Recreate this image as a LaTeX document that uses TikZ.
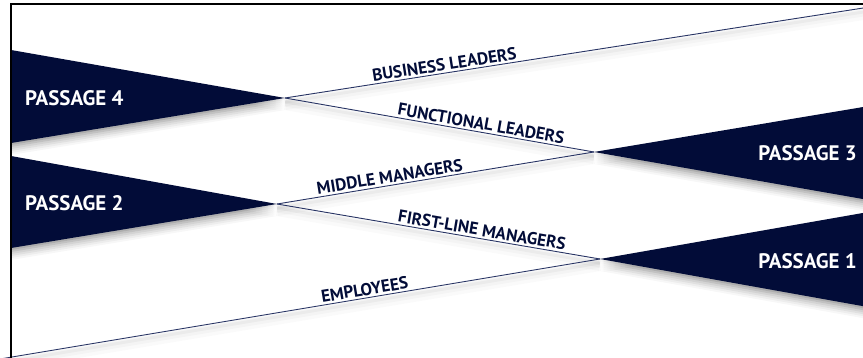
\documentclass[tikz,border=0pt]{standalone}
\usepackage{fontspec}
\setmainfont{PT Sans}
\definecolor{navy}{RGB}{2,12,56}
\definecolor{rulecol}{RGB}{40,52,100}
\begin{document}
\begin{tikzpicture}[x=1pt,y=-1pt,
  pennant/.style={fill=navy},
  ptext/.style={text=white, font=\bfseries\fontsize{21}{21}\selectfont, inner sep=0pt},
  tier/.style={draw=rulecol, line width=0.9pt},
  tiershade/.style={draw=black, line cap=butt},
  tierlabel/.style={text=navy, font=\bfseries\fontsize{17.2}{17.2}\selectfont,
      sloped, above=2pt, inner sep=0pt}]
\useasboundingbox (0,0) rectangle (863,358);
\clip (0,0) rectangle (863,358);
\fill[white] (0,0) rectangle (863,358);

% tips of the pennants and the free ends of the outer rules
\coordinate (t4) at (285,98);
\coordinate (t2) at (277,204);
\coordinate (t3) at (594,152);
\coordinate (t1) at (600,259);
\coordinate (ne) at (880,5.4);
\coordinate (sw) at (0,359);

% soft shadows under the rules
\foreach \a/\b in {t4/ne, t4/t3, t2/t3, t2/t1, sw/t1}{
  \foreach \w/\o/\s in {12/0.02/6, 7/0.025/5, 3/0.035/4}{
    \draw[tiershade, line width=\w pt, opacity=\o, transform canvas={yshift=-\s pt}] (\a) -- (\b);
  }
}

% soft shadows under the pennants
\foreach \s/\o in {2/0.10, 4/0.08, 6/0.06, 8/0.05, 10/0.04, 12/0.03}{
  \begin{scope}[transform canvas={yshift=-\s pt}]
    \fill[black, opacity=\o] (11,50) -- (t4) -- (11,143) -- cycle;
    \fill[black, opacity=\o] (11,156) -- (t2) -- (11,248) -- cycle;
    \fill[black, opacity=\o] (880,104.2) -- (t3) -- (880,202) -- cycle;
    \fill[black, opacity=\o] (880,210) -- (t1) -- (880,309.2) -- cycle;
  \end{scope}
}

% pennants
\path[pennant] (11,50) -- (t4) -- (11,143) -- cycle;
\path[pennant] (11,156) -- (t2) -- (11,248) -- cycle;
\path[pennant] (880,104.2) -- (t3) -- (880,202) -- cycle;
\path[pennant] (880,210) -- (t1) -- (880,309.2) -- cycle;

\node[ptext, anchor=west] (p4) at (25,98) {PASSAGE 4};
\node[ptext, anchor=west] (p2) at (25,203) {PASSAGE 2};
\node[ptext, anchor=east] (p3) at (857,153) {PASSAGE 3};
\node[ptext, anchor=east] (p1) at (857,261) {PASSAGE 1};

% rules between the passages, with their tiers
\draw[tier] (t4) -- node[tierlabel, pos=0.27] (bl) {BUSINESS LEADERS} (ne);
\draw[tier] (t4) -- node[tierlabel, pos=0.63] (fl) {FUNCTIONAL LEADERS} (t3);
\draw[tier] (t2) -- node[tierlabel, pos=0.36] (mm) {MIDDLE MANAGERS} (t3);
\draw[tier] (t2) -- node[tierlabel, pos=0.63] (fm) {FIRST-LINE MANAGERS} (t1);
\draw[tier] (sw) -- node[tierlabel, pos=0.61] (em) {EMPLOYEES} (t1);

% frame
\draw[line width=2pt] (11,362) -- (11,4) -- (870,4);
\end{tikzpicture}
\end{document}
